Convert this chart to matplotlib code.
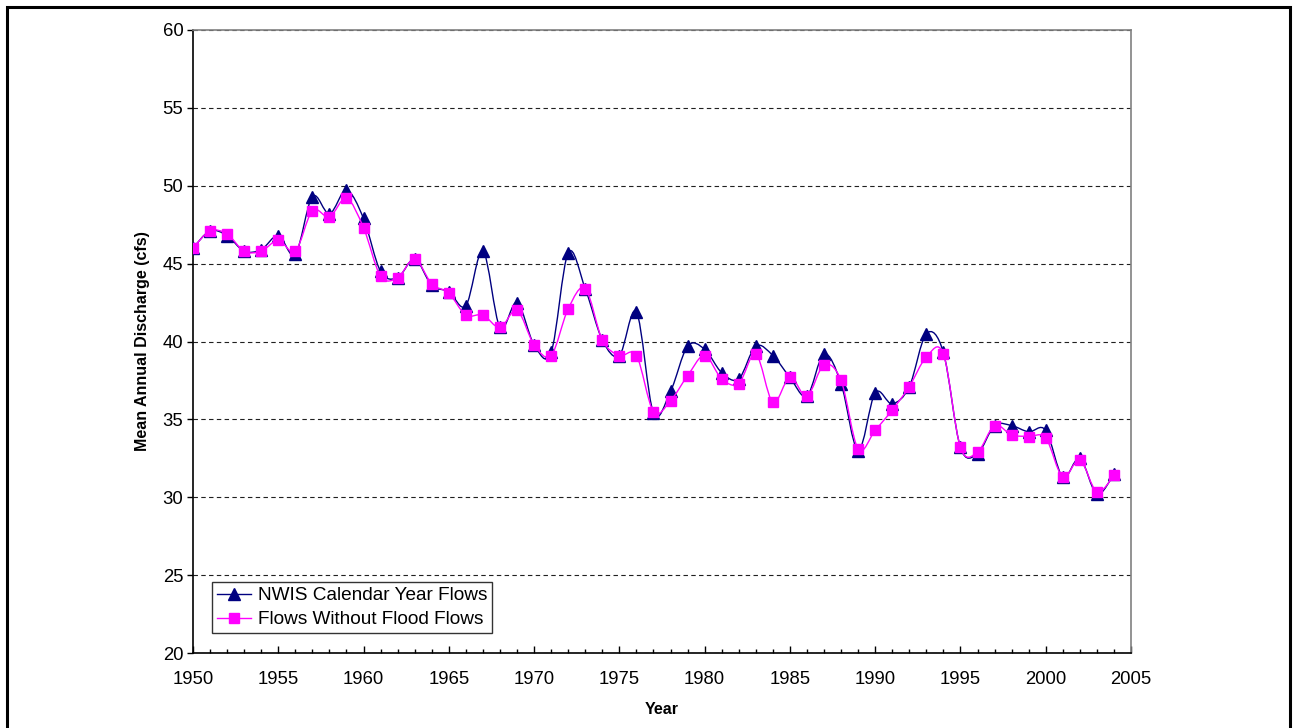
import numpy as np
import matplotlib
matplotlib.use("Agg")
import matplotlib.pyplot as plt
from matplotlib.path import Path
from matplotlib.patches import PathPatch, Rectangle
from matplotlib.lines import Line2D
from matplotlib.ticker import MultipleLocator

plt.rcParams['font.family'] = ['Liberation Sans', 'DejaVu Sans']

years = list(range(1950, 2005))

nwis_flows = [
    46.0, 47.1, 46.8, 45.8, 45.9, 46.8, 45.6, 49.3, 48.2, 49.7,
    47.9, 44.5, 44.1, 45.3, 43.6, 43.2, 42.3, 45.8, 40.9, 42.5,
    39.8, 39.3, 45.7, 43.4, 40.1, 39.1, 41.9, 35.4, 36.8, 39.7,
    39.5, 38.0, 37.6, 39.7, 39.1, 37.7, 36.5, 39.2, 37.3, 33.0,
    36.7, 36.0, 37.1, 40.5, 39.3, 33.2, 32.8, 34.6, 34.6, 34.2,
    34.3, 31.3, 32.5, 30.2, 31.5,
]

no_flood_flows = [
    46.0, 47.1, 46.9, 45.8, 45.8, 46.5, 45.8, 48.4, 48.0, 49.2,
    47.3, 44.2, 44.1, 45.3, 43.7, 43.1, 41.7, 41.7, 40.9, 42.0,
    39.8, 39.1, 42.1, 43.4, 40.1, 39.1, 39.1, 35.5, 36.2, 37.8,
    39.1, 37.6, 37.3, 39.2, 36.1, 37.7, 36.5, 38.5, 37.5, 33.1,
    34.3, 35.6, 37.1, 39.0, 39.2, 33.2, 32.9, 34.6, 34.0, 33.9,
    33.8, 31.3, 32.4, 30.35, 31.4,
]

series_labels = ["NWIS Calendar Year Flows", "Flows Without Flood Flows"]
navy = "#000080"
magenta = "#FF00FF"


def smooth_path(x, y):
    """Cubic Bezier path through the points (Catmull-Rom style smoothing)."""
    pts = np.column_stack([x, y]).astype(float)
    n = len(pts)
    verts = [pts[0]]
    codes = [Path.MOVETO]
    for i in range(n - 1):
        p0 = pts[i - 1] if i > 0 else pts[i]
        p1 = pts[i]
        p2 = pts[i + 1]
        p3 = pts[i + 2] if i + 2 < n else pts[i + 1]
        c1 = p1 + (p2 - p0) / 6.0
        c2 = p2 - (p3 - p1) / 6.0
        verts.extend([c1, c2, p2])
        codes.extend([Path.CURVE4] * 3)
    return Path(verts, codes)


fig = plt.figure(figsize=(12.93, 7.28), dpi=100)
ax = fig.add_axes([193 / 1293, 75 / 728, 938 / 1293, 623 / 728])

# outer frame around the whole chart
fig.patches.append(Rectangle((7 / 1293, -0.05), 1283 / 1293, 1.05 - 7 / 728,
                             transform=fig.transFigure, fill=False,
                             edgecolor="black", linewidth=2.2, zorder=0))

ax.add_patch(PathPatch(smooth_path(years, nwis_flows), facecolor="none",
                       edgecolor=navy, linewidth=1.0, zorder=3))
ax.plot(years, nwis_flows, linestyle="none", marker="^", markersize=8,
        color=navy, zorder=4)

ax.add_patch(PathPatch(smooth_path(years, no_flood_flows), facecolor="none",
                       edgecolor=magenta, linewidth=1.0, zorder=5))
ax.plot(years, no_flood_flows, linestyle="none", marker="s", markersize=7.5,
        color=magenta, zorder=6)

ax.set_xlim(1950, 2005)
ax.set_ylim(20, 60)
ax.xaxis.set_major_locator(MultipleLocator(5))
ax.xaxis.set_minor_locator(MultipleLocator(1))
ax.yaxis.set_major_locator(MultipleLocator(5))

ax.yaxis.grid(True, linestyle=(0, (4, 3)), color="#202020", linewidth=0.8)
ax.set_axisbelow(True)

for side in ("top", "right"):
    ax.spines[side].set_color("#808080")
    ax.spines[side].set_linewidth(1.2)
for side in ("left", "bottom"):
    ax.spines[side].set_color("black")
    ax.spines[side].set_linewidth(1.2)

ax.tick_params(axis="x", which="major", direction="in", length=5, width=1,
               pad=13, labelsize=13.3)
ax.tick_params(axis="x", which="minor", direction="in", length=3, width=1)
ax.tick_params(axis="y", which="major", direction="out", length=4, width=1,
               pad=3, labelsize=13.3)

ax.set_xlabel("Year", fontsize=11.5, fontweight="bold")
ax.set_ylabel("Mean Annual Discharge (cfs)", fontsize=11.5, fontweight="bold")
ax.xaxis.set_label_coords(0.5, -(702 - 653) / 623)
ax.yaxis.set_label_coords((150 - 193) / 938, 0.5)

handles = [
    Line2D([], [], color=navy, marker="^", markersize=8, linewidth=1.0),
    Line2D([], [], color=magenta, marker="s", markersize=7.5, linewidth=1.0),
]
leg = ax.legend(handles, series_labels, loc="lower left",
                bbox_to_anchor=((212 - 193) / 938, (653 - 633) / 623),
                fontsize=13.7, frameon=True, fancybox=False,
                edgecolor="black", borderpad=0.25, labelspacing=0.35,
                handlelength=1.8, handletextpad=0.35, borderaxespad=0)
leg.get_frame().set_linewidth(1.0)

fig.savefig("out.png", dpi=100, facecolor="white")
